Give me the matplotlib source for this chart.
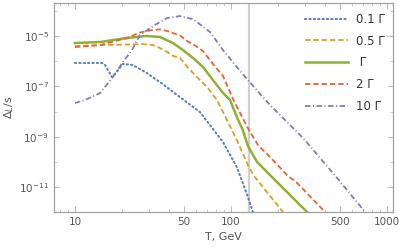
import matplotlib
matplotlib.use("Agg")
import matplotlib.pyplot as plt
from matplotlib.ticker import LogLocator, FixedLocator, NullFormatter, FixedFormatter

# ---- data ----
T_01 = [10, 14.9, 15.6, 17.3, 18.5, 20.3, 23.5, 28.9, 35.1, 42.5, 53, 63.3, 73.3, 88.9, 109, 128.5, 138, 142]
L_01 = [-6.07, -6.07, -6.15, -6.63, -6.43, -6.11, -6.15, -6.47, -6.83, -7.22, -7.66, -8.02, -8.53, -9.21, -10.20, -11.39, -11.98, -12.2]

T_05 = [10, 14.5, 21.5, 27.3, 31.6, 35.1, 38.9, 42.5, 47.1, 53, 60.5, 70.2, 81.3, 94.2, 109, 128.5, 140, 170, 215, 230]
L_05 = [-5.40, -5.36, -5.34, -5.32, -5.36, -5.48, -5.63, -5.79, -5.87, -6.25, -6.63, -7.02, -7.54, -8.33, -9.13, -10.12, -10.54, -11.19, -11.98, -12.3]

T_1 = [10, 14.5, 21.5, 28.9, 35.1, 42.5, 49.3, 57, 66.2, 76.7, 88.9, 98.6, 109, 119, 128.5, 147, 206, 307, 330]
L_1 = [-5.28, -5.24, -5.08, -5.00, -5.04, -5.28, -5.56, -5.87, -6.23, -6.75, -7.26, -7.54, -8.21, -8.73, -9.37, -10.0, -10.91, -11.98, -12.2]

T_2 = [10, 14.5, 21.5, 26.1, 31.6, 35.1, 38.9, 47.1, 53, 57, 66.2, 76.7, 88.9, 103, 127, 149, 178, 229, 265, 401, 430]
L_2 = [-5.44, -5.36, -5.08, -4.86, -4.76, -4.74, -4.80, -4.98, -5.22, -5.32, -5.60, -6.11, -6.59, -7.50, -8.61, -9.33, -9.80, -10.52, -10.83, -11.98, -12.2]

T_10 = [10, 11.6, 14.5, 17.5, 20.3, 23.2, 26.1, 32.6, 38.9, 47.1, 57, 73.3, 88.9, 109, 128.5, 160, 178, 290, 478, 723, 780]
L_10 = [-7.66, -7.54, -7.26, -6.63, -6.03, -5.56, -4.96, -4.56, -4.29, -4.21, -4.33, -4.84, -5.56, -6.23, -6.75, -7.42, -7.74, -9.05, -10.63, -11.98, -12.3]

labels = ["0.1 Γ", "0.5 Γ", " Γ", "2 Γ", "10 Γ"]
T_vline = 130
xtick_vals = [10, 50, 100, 500, 1000]
xtick_labels = ["10", "50", "100", "500", "1000"]
ytick_exps = [-5, -7, -9, -11]

colors = ["#5E81B5", "#E19C24", "#8FB032", "#EB6235", "#8778B3"]

fig = plt.figure(figsize=(3.99, 2.47), dpi=100)
ax = fig.add_axes([0.135, 0.142, 0.850, 0.844])

ax.axvline(T_vline, color="#D0D0D0", lw=1.6, zorder=1)

series = [(T_01, L_01), (T_05, L_05), (T_1, L_1), (T_2, L_2), (T_10, L_10)]
styles = [(0, (0.6, 1.5)), (0, (3.0, 1.6)), "-", (0, (3.0, 1.6)), (0, (3.0, 1.4, 0.6, 1.4))]
lws = [1.5, 1.3, 1.8, 1.3, 1.3]
caps = ["round", "butt", "butt", "butt", "butt"]
for (T, L), c, ls, lw, lab, cs in zip(series, colors, styles, lws, labels, caps):
    y = [10.0 ** v for v in L]
    ax.plot(T, y, color=c, ls=ls, lw=lw, label=lab, dash_capstyle=cs, zorder=3)

ax.set_xscale("log")
ax.set_yscale("log")
ax.set_xlim(7.33, 1092)
ax.set_ylim(1.05e-12, 1.95e-4)

ax.xaxis.set_major_locator(FixedLocator(xtick_vals))
ax.xaxis.set_major_formatter(FixedFormatter(xtick_labels))
ax.xaxis.set_minor_locator(LogLocator(base=10, subs=[1, 2, 3, 4, 5, 6, 7, 8, 9], numticks=20))
ax.xaxis.set_minor_formatter(NullFormatter())

ax.yaxis.set_major_locator(FixedLocator([10.0 ** e for e in ytick_exps]))
ax.yaxis.set_major_formatter(FixedFormatter([r"$10^{%d}$" % e for e in ytick_exps]))
ax.yaxis.set_minor_locator(FixedLocator([10.0 ** e for e in range(-12, -3)]))
ax.yaxis.set_minor_formatter(NullFormatter())

for s in ax.spines.values():
    s.set_color("#A0A0A0")
    s.set_linewidth(0.9)
ax.tick_params(which="both", direction="in", top=True, right=True, colors="#B0B0B0",
               labelcolor="#555555", labelsize=7.5)
ax.tick_params(which="major", length=4, width=0.6)
ax.tick_params(which="minor", length=2.5, width=0.5)
ax.tick_params(axis="x", pad=4)

ax.set_xlabel("T, GeV", color="#555555", fontsize=8, labelpad=3.5)
ax.set_ylabel(r"$\Delta_L$/s", color="#555555", fontsize=8, labelpad=2)

leg = ax.legend(loc="upper right", bbox_to_anchor=(1.0, 0.995), frameon=False, fontsize=8.5,
                handlelength=3.6, handletextpad=0.7, labelspacing=0.75, borderaxespad=0.3)
for t in leg.get_texts():
    t.set_color("#333333")

fig.savefig("out.png", dpi=100)
